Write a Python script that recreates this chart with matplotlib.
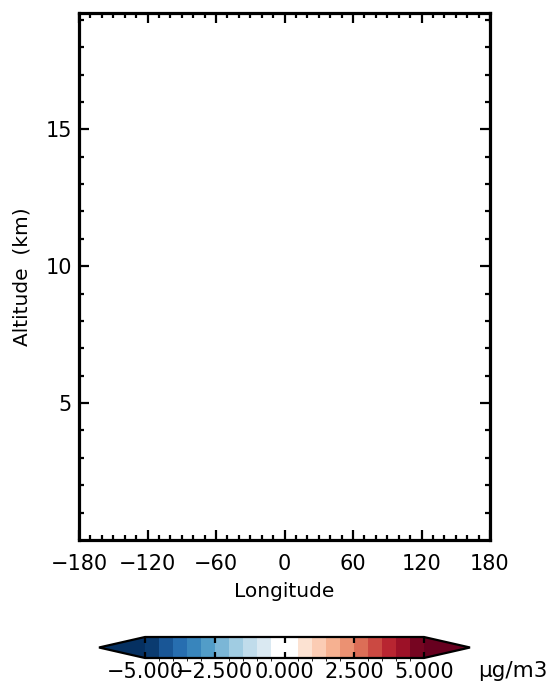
import numpy as np
import matplotlib
matplotlib.use("Agg")
import matplotlib.pyplot as plt
from matplotlib.colors import ListedColormap, BoundaryNorm
from matplotlib.cm import ScalarMappable

# data: the field is empty (all missing), only the frame and colour key show
lon_ticks = [-180, -120, -60, 0, 60, 120, 180]
alt_ticks = [5, 10, 15]
alt_range = [0.0, 19.25]
levels = np.linspace(-5.0, 5.0, 21)
cbar_ticks = [-5.0, -2.5, 0.0, 2.5, 5.0]
cbar_labels = ["\u22125.000", "\u22122.500", "0.000", "2.500", "5.000"]
unit = "\u03bcg/m3"

plt.rcParams['font.family'] = ['DejaVu Sans']

fig = plt.figure(figsize=(5.58, 6.85), dpi=100)
W, H = 558.0, 685.0

ax = fig.add_axes([79 / W, 1 - 540 / H, (490 - 79) / W, (540 - 13) / H])
lon = np.linspace(-180, 180, 37)
alt = np.linspace(alt_range[0], alt_range[1], 20)
field = np.full((alt.size, lon.size), np.nan)

base = plt.get_cmap('RdBu_r')
cols = base(np.linspace(0.02, 0.98, 20))
cols[9] = cols[10] = (1, 1, 1, 1)
cmap = ListedColormap(cols)
cmap.set_under(base(0.0))
cmap.set_over(base(1.0))
norm = BoundaryNorm(levels, cmap.N)

ax.pcolormesh(lon, alt, field, cmap=cmap, norm=norm, shading='nearest')
ax.set_xlim(-180, 180)
ax.set_ylim(alt_range)
ax.set_xticks(lon_ticks)
ax.set_xticks(np.arange(-180, 181, 10), minor=True)
ax.set_yticks(alt_ticks)
ax.set_yticks(np.arange(1, 20, 1), minor=True)
ax.tick_params(which='both', direction='in', top=True, right=True, width=1.6,
               labelsize=15)
ax.tick_params(axis='x', pad=10)
ax.tick_params(axis='y', pad=5)
ax.tick_params(which='major', length=7.5)
ax.tick_params(which='minor', length=3.5)
for s in ax.spines.values():
    s.set_linewidth(2.3)
ax.set_xlabel("Longitude", fontsize=14.5, labelpad=6)
ax.set_ylabel("Altitude  (km)", fontsize=14.5, labelpad=10)

cax = fig.add_axes([99 / W, 1 - 658 / H, (470 - 99) / W, 21 / H])
sm = ScalarMappable(norm=norm, cmap=cmap)
cb = fig.colorbar(sm, cax=cax, orientation='horizontal', extend='both',
                  extendfrac=0.165, ticks=cbar_ticks, drawedges=False)
cb.ax.set_xticklabels(cbar_labels)
cb.outline.set_linewidth(1.6)
cb.ax.tick_params(direction='in', top=True, bottom=True, length=4, width=1.6,
                  labelsize=15, pad=3)
fig.text(478 / W, 1 - 671 / H, unit, fontsize=15.5, va='center', ha='left')

fig.savefig("out.png", dpi=100)
